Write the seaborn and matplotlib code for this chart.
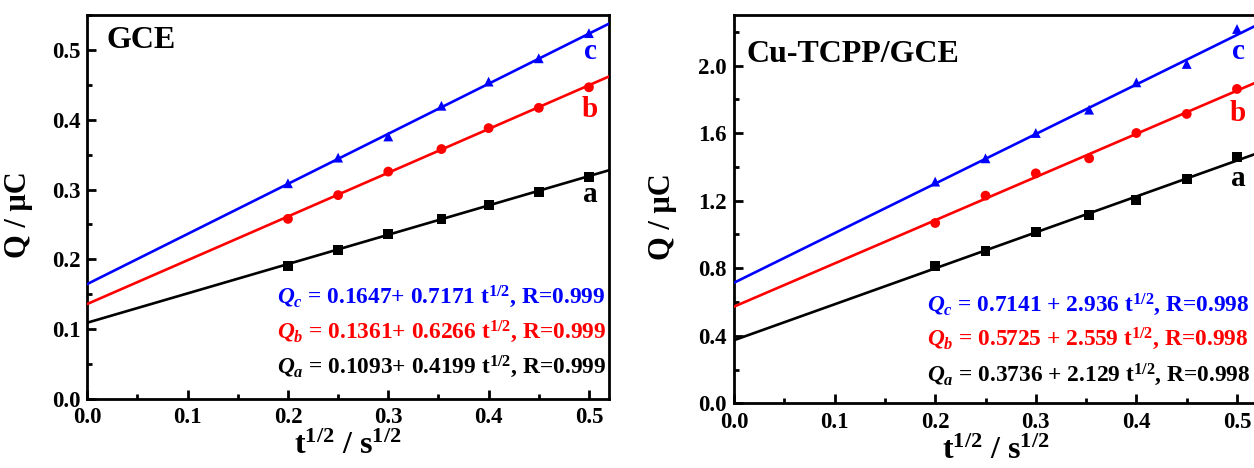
import numpy as np
import pandas as pd
import matplotlib
matplotlib.use("Agg")
import matplotlib.pyplot as plt
import seaborn as sns
from matplotlib.ticker import MultipleLocator, FormatStrFormatter

# ---------------- data ----------------
t_half = [0.2, 0.25, 0.3, 0.353, 0.4, 0.45, 0.5]
series_names = ["a", "b", "c"]

gce_a = [0.191, 0.2135, 0.236, 0.258, 0.278, 0.297, 0.3176]
gce_b = [0.258, 0.292, 0.3257, 0.358, 0.388, 0.417, 0.4465]
gce_c = [0.309, 0.3457, 0.376, 0.420, 0.4546, 0.488, 0.524]

cu_a = [0.811, 0.904, 1.017, 1.115, 1.206, 1.329, 1.457]
cu_b = [1.068, 1.230, 1.362, 1.451, 1.601, 1.714, 1.862]
cu_c = [1.313, 1.451, 1.601, 1.739, 1.901, 2.010, 2.217]

gce_intercept = [0.1093, 0.1361, 0.1647]
gce_slope = [0.4199, 0.6266, 0.7171]
cu_intercept = [0.3736, 0.5725, 0.7141]
cu_slope = [2.129, 2.559, 2.936]

gce_eqs = [r"$Q_a$ = 0.1093+ 0.4199 $\mathrm{t}^{1/2}$, R=0.999",
           r"$Q_b$ = 0.1361+ 0.6266 $\mathrm{t}^{1/2}$, R=0.999",
           r"$Q_c$ = 0.1647+ 0.7171 $\mathrm{t}^{1/2}$, R=0.999"]
cu_eqs = [r"$Q_a$ = 0.3736 + 2.129 $\mathrm{t}^{1/2}$, R=0.998",
          r"$Q_b$ = 0.5725 + 2.559 $\mathrm{t}^{1/2}$, R=0.998",
          r"$Q_c$ = 0.7141 + 2.936 $\mathrm{t}^{1/2}$, R=0.998"]

panel_titles = ["GCE", "Cu-TCPP/GCE"]

# ---------------- style ----------------
sns.set_theme(style="ticks")
plt.rcParams.update({
    "font.family": ["Liberation Serif", "DejaVu Serif"],
    "font.weight": "bold",
    "mathtext.fontset": "custom",
    "mathtext.rm": "Liberation Serif:bold",
    "mathtext.it": "Liberation Serif:italic:bold",
    "mathtext.bf": "Liberation Serif:bold",
    "text.color": "black",
    "axes.labelcolor": "black",
    "xtick.labelcolor": "black",
    "ytick.labelcolor": "black",
    "axes.linewidth": 2.0,
    "axes.edgecolor": "black",
    "xtick.direction": "in",
    "ytick.direction": "in",
    "xtick.major.width": 2.0,
    "ytick.major.width": 2.0,
    "xtick.minor.width": 2.0,
    "ytick.minor.width": 2.0,
    "xtick.major.size": 6.5,
    "ytick.major.size": 6.5,
    "xtick.minor.size": 3.5,
    "ytick.minor.size": 3.5,
    "xtick.color": "black",
    "ytick.color": "black",
})

colors = {"a": "#000000", "b": "#ff0000", "c": "#0000ff"}
markers = {"a": "s", "b": "o", "c": "^"}

fig = plt.figure(figsize=(12.54, 4.68), dpi=100, facecolor="white")
ax1 = fig.add_axes([87.3 / 1254, (468 - 399) / 468, (609 - 87.3) / 1254, (399 - 15) / 468])
ax2 = fig.add_axes([734 / 1254, (468 - 403.3) / 468, 0.52 * 1006 / 1254, (403.3 - 15) / 468])


def make_df(ys):
    rows = []
    for name, vals in zip(series_names, ys):
        for x, y in zip(t_half, vals):
            rows.append({"x": x, "y": y, "s": name})
    return pd.DataFrame(rows)


def fit_df(intercepts, slopes):
    xs = np.array([0.0, 0.52])
    rows = []
    for name, b0, b1 in zip(series_names, intercepts, slopes):
        for x in xs:
            rows.append({"x": x, "y": b0 + b1 * x, "s": name})
    return pd.DataFrame(rows)


panels = [
    (ax1, [gce_a, gce_b, gce_c], gce_intercept, gce_slope, gce_eqs, 0.55, 0.1, 0.05,
     {"a": 0.282, "b": 0.404, "c": 0.487}, 0.503, [0.0372, 0.0874, 0.1375], 0.1886),
    (ax2, [cu_a, cu_b, cu_c], cu_intercept, cu_slope, cu_eqs, 2.3, 0.4, 0.2,
     {"a": 1.285, "b": 1.67, "c": 2.04}, 2.022, [0.132, 0.340, 0.542], 0.1916),
]

for i, (ax, ys, b0s, b1s, eqs, ymax, ymaj, ymin_, lab_y, title_y, eq_y, eq_x) in enumerate(panels):
    df = make_df(ys)
    fdf = fit_df(b0s, b1s)
    sns.scatterplot(data=df, x="x", y="y", hue="s", style="s", palette=colors,
                    markers=markers, s=50, edgecolor="none", legend=False, ax=ax, zorder=2)
    sns.lineplot(data=fdf, x="x", y="y", hue="s", palette=colors, linewidth=1.9,
                 legend=False, ax=ax, zorder=3)
    ax.set_xlim(0, 0.52)
    ax.set_ylim(0, ymax)
    ax.xaxis.set_major_locator(MultipleLocator(0.1))
    ax.xaxis.set_minor_locator(MultipleLocator(0.05))
    ax.yaxis.set_major_locator(MultipleLocator(ymaj))
    ax.yaxis.set_minor_locator(MultipleLocator(ymin_))
    ax.xaxis.set_major_formatter(FormatStrFormatter("%.1f"))
    ax.yaxis.set_major_formatter(FormatStrFormatter("%.1f"))
    ax.tick_params(axis="both", which="both", top=False, right=False, labelsize=16.5,
                   labelcolor="black")
    ax.tick_params(axis="x", which="major", pad=6)
    ax.tick_params(axis="y", which="major", pad=5)
    for lbl in ax.get_xticklabels() + ax.get_yticklabels():
        lbl.set_fontweight("bold")
    for sp in ax.spines.values():
        sp.set_visible(True)
        sp.set_linewidth(2.0)
    ax.set_xlabel(r"$\mathrm{t}^{1/2}$ / $\mathrm{s}^{1/2}$", fontsize=23, fontweight="bold",
                  color="black")
    ax.set_ylabel("Q / μC", fontsize=22, fontweight="bold", color="black")
    ax.xaxis.set_label_coords(0.5, -0.085)
    ax.yaxis.set_label_coords(-0.104 if i == 0 else -0.109, 0.48)
    ax.set_facecolor("white")

    ax.text(0.0126 if i else 0.0196, title_y, panel_titles[i], fontsize=23,
            fontweight="bold", ha="left", va="baseline", color="black")
    for name in series_names:
        ax.text(0.501, lab_y[name], name, fontsize=21, fontweight="bold",
                color=colors[name], ha="center", va="baseline")
    for name, eq, yy in zip(series_names, eqs, eq_y):
        ax.text(eq_x, yy, eq, fontsize=16.8, fontweight="bold", color=colors[name],
                ha="left", va="baseline")

fig.savefig("out.png", dpi=100, facecolor="white")
